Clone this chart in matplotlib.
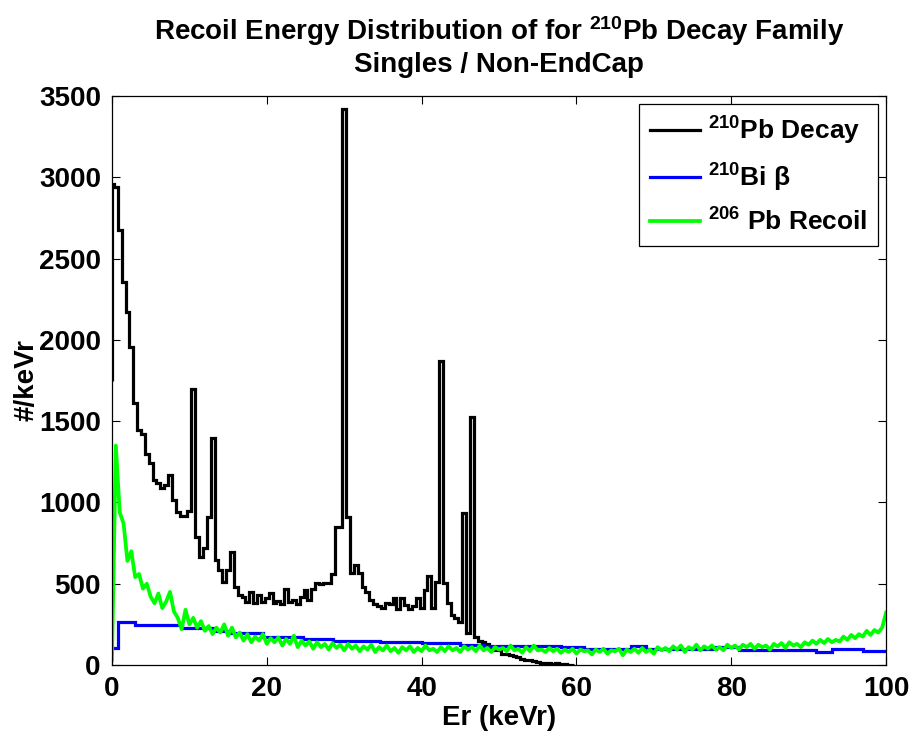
import numpy as np
import matplotlib
matplotlib.use('Agg')
import matplotlib.pyplot as plt

plt.rcParams['font.family'] = ['Liberation Sans', 'DejaVu Sans']
plt.rcParams['font.weight'] = 'bold'
plt.rcParams['mathtext.fontset'] = 'custom'
plt.rcParams['mathtext.rm'] = 'Liberation Sans'
plt.rcParams['mathtext.it'] = 'Liberation Sans:italic'
plt.rcParams['mathtext.bf'] = 'Liberation Sans:bold'

# 210Pb decay histogram: bin edges (keVr) and counts; first tiny bin is the start point
pb_edges = np.r_[0, 0.03, np.arange(0.25, 60, 0.5)]
pb_counts = [1750,
    2960, 2940, 2675, 2355, 2170, 1955, 1610, 1445, 1420, 1300,   # 0 - 4.5
    1240, 1140, 1120, 1090, 1110, 1170, 1015, 940, 915, 915,      # 5 - 9.5
    950, 1700, 790, 665, 720, 910, 1395, 645, 585, 510,           # 10 - 14.5
    585, 695, 480, 430, 420, 390, 450, 380, 430, 385,             # 15 - 19.5
    410, 440, 380, 395, 375, 470, 385, 400, 375, 420,             # 20 - 24.5
    460, 400, 470, 505, 500, 505, 505, 560, 850, 850,             # 25 - 29.5
    3420, 912, 565, 615, 565, 480, 450, 400, 375, 365,            # 30 - 34.5
    350, 380, 375, 410, 345, 410, 370, 345, 360, 410,             # 35 - 39.5
    350, 460, 550, 350, 512, 1870, 505, 380, 310, 290,            # 40 - 44.5
    265, 935, 197, 1525, 170, 150, 140, 130, 100, 95,             # 45 - 49.5
    90, 70, 65, 60, 55, 50, 35, 30, 30, 25,                       # 50 - 54.5
    20, 10, 15, 10, 5, 10, 5, 5, 0, 0]                            # 55 - 59.5

# 210Bi beta spectrum (steps)
bi_edges = [0, 0.8, 3, 9, 13, 15, 19.5, 24.7, 28.6, 34.6, 40, 45, 48, 55,
            58, 61, 67, 69, 78, 81, 91, 93, 97, 100]
bi_counts = [105, 262, 245, 228, 210, 195, 172, 160, 150, 140, 135, 125,
             117, 115, 113, 100, 118, 100, 108, 90, 82, 98, 85]

# 206Pb recoil, sampled every 0.5 keVr
recoil_e = np.arange(0, 100.01, 0.5)
recoil_counts = [
    30, 1350, 940, 870, 640, 700, 540, 560, 470, 500,      # 0 - 4.5
    420, 380, 440, 350, 390, 450, 330, 290, 220, 340,      # 5 - 9.5
    250, 290, 230, 270, 210, 240, 190, 230, 200, 250,      # 10 - 14.5
    180, 230, 170, 200, 150, 190, 140, 175, 150, 190,      # 15 - 19.5
    130, 165, 140, 170, 120, 160, 130, 180, 110, 150,      # 20 - 24.5
    120, 145, 100, 140, 110, 130, 95, 135, 105, 125,       # 25 - 29.5
    90, 130, 100, 120, 85, 115, 95, 125, 80, 110,          # 30 - 34.5
    90, 120, 85, 105, 75, 110, 90, 115, 80, 105,           # 35 - 39.5
    85, 120, 90, 100, 80, 110, 85, 115, 90, 105,           # 40 - 44.5
    80, 115, 95, 110, 85, 120, 90, 105, 80, 110,           # 45 - 49.5
    95, 105, 85, 120, 90, 100, 75, 110, 85, 120,           # 50 - 54.5
    90, 95, 80, 105, 85, 100, 75, 95, 80, 100,             # 55 - 59.5
    70, 95, 85, 90, 65, 95, 80, 100, 70, 90,               # 60 - 64.5
    85, 100, 60, 95, 80, 100, 75, 105, 80, 95,             # 65 - 69.5
    70, 110, 90, 105, 85, 115, 95, 120, 80, 110,           # 70 - 74.5
    95, 125, 90, 115, 100, 120, 95, 110, 90, 125,          # 75 - 79.5
    105, 120, 95, 125, 110, 130, 100, 125, 110, 120,       # 80 - 84.5
    95, 130, 115, 135, 105, 140, 120, 130, 110, 140,       # 85 - 89.5
    125, 150, 130, 155, 135, 160, 140, 155, 145, 175,      # 90 - 94.5
    155, 185, 165, 190, 175, 210, 185, 215, 200, 230,      # 95 - 99.5
    322]                                                    # 100

fig = plt.figure(figsize=(9.11, 7.38), dpi=100)
ax = fig.add_axes([0.1229, 0.0989, 0.8497, 0.771])

ax.stairs(pb_counts, pb_edges, color='black', lw=2.3, baseline=None,
          label=r'$^{210}$Pb Decay')
ax.stairs(bi_counts, bi_edges, color='#0000ff', lw=2.3, baseline=None,
          label=r'$^{210}$Bi β')
ax.plot(recoil_e, recoil_counts, color='#00ff00', lw=2.7,
        label=r'$^{206}$ Pb Recoil')

ax.set_xlim(0, 100)
ax.set_ylim(0, 3500)
ax.set_xticks(range(0, 101, 20))
ax.set_yticks(range(0, 3501, 500))
ax.tick_params(direction='in', length=6, width=0.8, top=True, right=True,
               labelsize=20, pad=8)
for s in ax.spines.values():
    s.set_linewidth(0.9)

ax.set_xlabel('Er (keVr)', fontsize=20, fontweight='bold', labelpad=2)
ax.set_ylabel('#/keVr', fontsize=20, fontweight='bold')
ax.yaxis.set_label_coords(-0.093, 0.5)
ax.set_title('Recoil Energy Distribution of for $^{210}$Pb Decay Family\nSingles / Non-EndCap',
             fontsize=20, fontweight='bold', pad=17, linespacing=1.2)

leg = ax.legend(loc='upper right', bbox_to_anchor=(0.9897, 0.9859),
                fontsize=19, frameon=True, fancybox=False, edgecolor='black',
                framealpha=1, handlelength=1.9, handletextpad=0.3,
                labelspacing=0.55, borderpad=0.4, borderaxespad=0)
leg.get_frame().set_linewidth(0.9)

fig.savefig('out.png', dpi=100)
